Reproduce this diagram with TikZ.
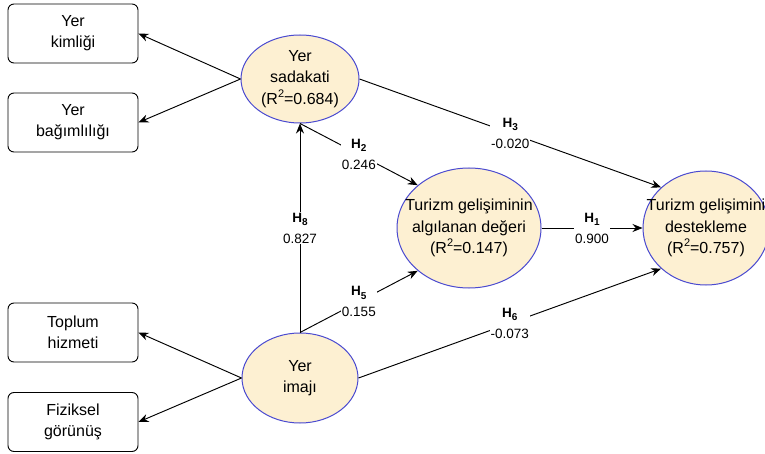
\documentclass[tikz,border=0pt]{standalone}
\usepackage{fontspec}
\setmainfont{Liberation Sans}
\usetikzlibrary{arrows.meta, shapes.geometric}

\definecolor{rimblue}{HTML}{4A4AD0}
\definecolor{cream}{HTML}{FDF0D2}

% Indizes
\newcommand{\hsub}[1]{\raisebox{-0.25em}{\fontsize{10}{10}\selectfont #1}}
\newcommand{\rsq}{R\raisebox{0.42em}{\fontsize{11}{11}\selectfont 2}}

\begin{document}
\begin{tikzpicture}[
      x=1pt, y=-1pt, % pixel grid
      >={Stealth[length=10pt, width=8pt]}, % Default arrow tip
      construct/.style={ellipse, draw=rimblue, fill=cream, line width=1pt, inner sep=0pt}, % latent variables
      ctext/.style={align=center, font=\fontsize{16}{21.5}\selectfont},
      indicator/.style={draw, rounded corners=6pt, line width=0.9pt, minimum width=130pt,
        minimum height=59pt, align=center, font=\fontsize{16}{21}\selectfont},
      link/.style={->, line width=0.95pt}, % paths
      coef/.style={fill=white, inner sep=1pt, align=center, font=\fontsize{13.5}{21}\selectfont},
    ]
    \useasboundingbox (0,0) rectangle (765,454);

    % Konstrukte
    \node[construct, minimum width=118pt, minimum height=88pt,
      label={[ctext]center:Yer\\sadakati\\(\rsq=0.684)}] (sad) at (300,79) {};
    \node[construct, minimum width=116pt, minimum height=90pt,
      label={[ctext]center:Yer\\imajı}] (ima) at (300,378) {};
    \node[construct, minimum width=144pt, minimum height=120pt,
      label={[ctext]center:Turizm gelişiminin\\algılanan değeri\\(\rsq=0.147)}] (alg) at (469,228) {};
    \node[construct, minimum width=126pt, minimum height=114pt,
      label={[ctext]center:Turizm gelişimini\\destekleme\\(\rsq=0.757)}] (des) at (706,228) {};

    % Indikatoren
    \node[indicator] (kim) at (73,33.5) {Yer\\kimliği};
    \node[indicator] (bag) at (73,122.5) {Yer\\bağımlılığı};
    \node[indicator] (top) at (73,332.5) {Toplum\\hizmeti};
    \node[indicator] (fiz) at (73,422) {Fiziksel\\görünüş};

    \foreach \c/\i in {sad/kim, sad/bag, ima/top, ima/fiz}
    \draw[link] (\c.west) -- (\i.east);

    % Hypothesen
    \foreach \from/\to/\h/\val in {
        sad.south/alg.north west/2/0.246,
        sad.east/des.north west/3/-0.020,
        ima.north/sad.south/8/0.827,
        ima.north/alg.south west/5/0.155,
        ima.east/des.south west/6/-0.073,
        alg.east/des.west/1/0.900}
    \draw[link] (\from) -- node[coef] {\textbf{H\hsub{\h}}\\\val} (\to);
  \end{tikzpicture}
\end{document}
